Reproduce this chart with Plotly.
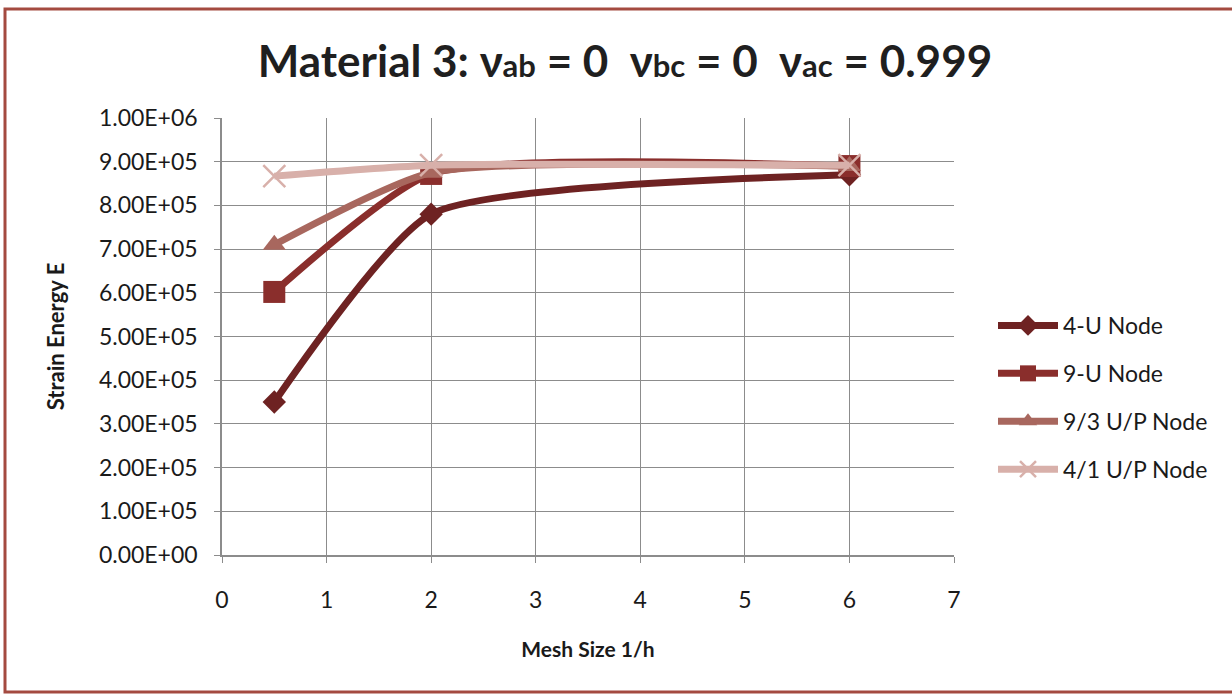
import plotly.graph_objects as go

mesh = [0.5, 2, 6]
series_names = ["4-U Node", "9-U Node", "9/3 U/P Node", "4/1 U/P Node"]
e_4u = [3.5e5, 7.8e5, 8.7e5]
e_9u = [6.02e5, 8.72e5, 8.9e5]
e_93up = [7.1e5, 8.75e5, 8.9e5]
e_41up = [8.67e5, 8.92e5, 8.92e5]
y_tickvals = [0, 1e5, 2e5, 3e5, 4e5, 5e5, 6e5, 7e5, 8e5, 9e5, 1e6]
y_ticktext = ["0.00E+00", "1.00E+05", "2.00E+05", "3.00E+05", "4.00E+05", "5.00E+05",
              "6.00E+05", "7.00E+05", "8.00E+05", "9.00E+05", "1.00E+06"]
x_tickvals = [0, 1, 2, 3, 4, 5, 6, 7]

colors = ["#6E2222", "#8A2E2C", "#A8675E", "#D8B0AA"]
symbols = ["diamond", "square", "triangle-up", "x-thin-open"]
msizes = [18, 22, 20, 22]
data = [e_4u, e_9u, e_93up, e_41up]

fig = go.Figure()
for i, (name, ys, c, s, ms) in enumerate(zip(series_names, data, colors, symbols, msizes)):
    marker = dict(symbol=s, size=ms, color=c)
    if s == "x-thin-open":
        marker["line"] = dict(color=c, width=2.5)
    fig.add_trace(go.Scatter(
        x=mesh, y=ys, name=name, mode="lines+markers", legendgroup=f"g{i}",
        line=dict(color=c, width=7, shape="spline", smoothing=0.55),
        marker=marker,
    ))

L, R, T, B = 222, 1232 - 954, 118, 698 - 555
W, H = 1232, 698
pw, ph = W - L - R, H - T - B

def px(xp):
    return (xp - L) / pw

def py(yp):
    return (H - B - yp) / ph

fig.update_layout(
    width=W, height=H,
    margin=dict(l=L, r=R, t=T, b=B),
    paper_bgcolor="white", plot_bgcolor="white",
    font=dict(family="Lato, Noto Sans, sans-serif", color="#1a1a1a"),
    title=dict(
        text="<b>Material 3: ν<span style='font-size:31px'>ab</span> = 0  ν<span style='font-size:31px'>bc</span> = 0  ν<span style='font-size:31px'>ac</span> = 0.999</b>",
        x=px(625), xanchor="center", xref="paper", y=1 - 62 / H, yanchor="middle",
        font=dict(size=44, color="#1f1f1f"),
    ),
    xaxis=dict(
        range=[0, 7], tickvals=x_tickvals, showgrid=True, gridcolor="#8c8c8c", gridwidth=1,
        showline=True, linecolor="#8c8c8c", linewidth=1.5, ticks="outside", ticklen=6,
        tickcolor="#8c8c8c", zeroline=False, tickfont=dict(size=23, color="#1a1a1a"),
        ticklabelstandoff=18,
        title=dict(text="<b>Mesh Size 1/h</b>", font=dict(size=21, color="#1a1a1a"), standoff=30),
    ),
    yaxis=dict(
        range=[0, 1e6], tickvals=y_tickvals, ticktext=y_ticktext, showgrid=True,
        gridcolor="#8c8c8c", gridwidth=1, showline=True, linecolor="#8c8c8c", linewidth=1.5,
        ticks="outside", ticklen=6, tickcolor="#8c8c8c", zeroline=False,
        tickfont=dict(size=23, color="#1a1a1a"), ticklabelstandoff=12,
        title=dict(text="<b>Strain Energy E</b>", font=dict(size=22, color="#1a1a1a"), standoff=28),
    ),
    legend=dict(
        x=px(993), y=py(304), xanchor="left", yanchor="top",
        font=dict(size=23, color="#1a1a1a"), tracegroupgap=15, itemwidth=60,
        bgcolor="rgba(0,0,0,0)",
    ),
    shapes=[dict(
        type="rect", xref="paper", yref="paper",
        x0=px(5), x1=px(1240), y0=py(692), y1=py(9),
        line=dict(color="#A44A40", width=3), layer="above",
    )],
)

fig.write_html("out.html")
